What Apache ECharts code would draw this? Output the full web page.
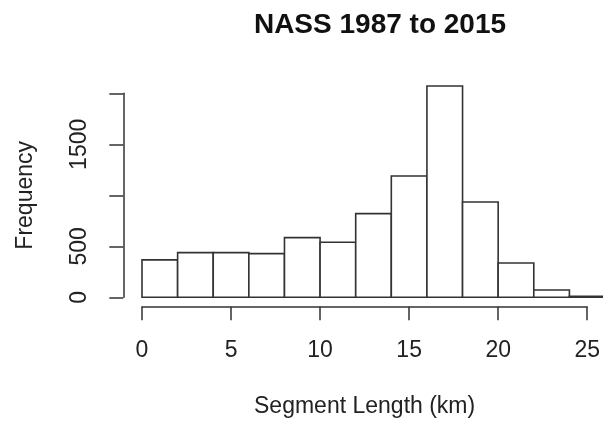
<!DOCTYPE html>
<html>
<head>
<meta charset="utf-8">
<script src="https://cdn.jsdelivr.net/npm/echarts@6/dist/echarts.min.js"></script>
<style>html,body{margin:0;padding:0;background:#fff}#c{width:603px;height:423px}</style>
</head>
<body>
<div id="c"></div>
<script>
// Histogram bins (km) and frequencies
var binStarts = [0, 2, 4, 6, 8, 10, 12, 14, 16, 18, 20, 22, 24];
var binWidth = 2;
var counts = [367, 438, 438, 428, 585, 539, 820, 1189, 2072, 934, 336, 72, 10];
var xTicks = [0, 5, 10, 15, 20, 25];
var yTicks = [0, 500, 1000, 1500, 2000];
var titleText = 'NASS 1987 to 2015';
var xName = 'Segment Length (km)';
var yName = 'Frequency';

var data = binStarts.map(function (s, i) { return [s, s + binWidth, counts[i]]; });
var FONT = 'Liberation Sans, Arial, sans-serif';
var INK = '#222';

var chart = echarts.init(document.getElementById('c'), null, {renderer: 'canvas'});
chart.setOption({
  backgroundColor: '#fff',
  animation: false,
  title: {
    text: titleText,
    left: 375,
    textAlign: 'center',
    top: 6,
    textStyle: {fontFamily: FONT, fontWeight: 'bold', fontSize: 28, color: '#111'}
  },
  grid: {left: 142, right: 10, top: 93.3, bottom: 125.7, containLabel: false},
  xAxis: {
    type: 'value',
    min: xTicks[0], max: xTicks[xTicks.length - 1], interval: 5,
    offset: 9.4,
    splitLine: {show: false},
    axisLine: {show: true, onZero: false, lineStyle: {color: '#333', width: 1.5}},
    axisTick: {show: true, length: 13.5, lineStyle: {color: '#333', width: 1.5}},
    axisLabel: {margin: 32, fontFamily: FONT, fontSize: 23, color: INK, showMinLabel: true, showMaxLabel: true},
    name: xName,
    nameLocation: 'middle',
    nameGap: 88,
    nameTextStyle: {fontFamily: FONT, fontSize: 23, color: INK}
  },
  yAxis: {
    type: 'value',
    min: yTicks[0], max: yTicks[yTicks.length - 1], interval: 500,
    offset: 18.7,
    splitLine: {show: false},
    axisLine: {show: true, onZero: false, lineStyle: {color: '#333', width: 1.5}},
    axisTick: {show: true, length: 14, lineStyle: {color: '#333', width: 1.5}},
    axisLabel: {
      margin: 32, rotate: 90, fontFamily: FONT, fontSize: 23, color: INK,
      formatter: function (v) { return (v === 0 || v === 500 || v === 1500) ? String(v) : ''; }
    },
    name: yName,
    nameLocation: 'middle',
    nameGap: 86,
    nameTextStyle: {fontFamily: FONT, fontSize: 23, color: INK}
  },
  series: [{
    type: 'custom',
    clip: false,
    data: data,
    encode: {x: [0, 1], y: 2},
    renderItem: function (params, api) {
      var p0 = api.coord([api.value(0), api.value(2)]);
      var p1 = api.coord([api.value(1), 0]);
      return {
        type: 'rect',
        shape: {x: p0[0], y: p0[1], width: p1[0] - p0[0], height: p1[1] - p0[1]},
        style: {fill: '#fff', stroke: '#333', lineWidth: 1.6}
      };
    }
  }]
});
</script>
</body>
</html>
